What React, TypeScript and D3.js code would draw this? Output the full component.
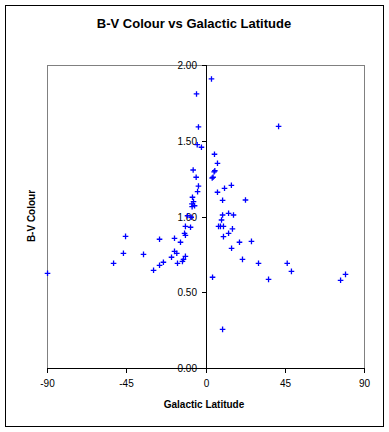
import React from "react";
import * as d3 from "d3";

// galactic latitude (deg) and B-V colour
const latitudes = [
  -89.7, -52.2, -46.6, -45.4, -35.2, -29.5, -26.1, -26.1, -23.9, -19.3,
  -17.6, -17.6, -16.3, -15.9, -14.2, -13.1, -12.5, -11.4, -11.9, -11.4,
  -11.4, -8.5, -10.2, -8.1, -7.6, -6.2, -7.7, -6.8, -7.4, -4.5,
  -4.0, -5.3, -7.0, -2.3, -4.7, -4.0, -5.1,
  3.4, 41.5, 5.1, 6.8, 5.3, 4.9, 4.3, 3.8, 14.7, 10.8,
  6.8, 9.7, 22.7, 9.7, 13.1, 15.9, 9.1, 7.4, 8.5, 10.2,
  15.3, 13.1, 10.2, 19.3, 26.1, 14.8, 21.0, 30.1, 46.4, 48.8,
  35.8, 4.0, 76.7, 79.5, 9.7,
];
const bvColours = [
  0.625, 0.691, 0.757, 0.869, 0.75, 0.645, 0.85, 0.678, 0.698, 0.731,
  0.77, 0.856, 0.757, 0.691, 0.83, 0.704, 0.717, 0.737, 0.889, 0.876,
  0.935, 0.929, 1.005, 0.995, 1.065, 1.071, 1.083, 1.098, 1.127, 1.164,
  1.201, 1.259, 1.307, 1.457, 1.474, 1.591, 1.809,
  1.908, 1.595, 1.411, 1.351, 1.302, 1.295, 1.259, 1.254, 1.206, 1.186,
  1.16, 1.107, 1.109, 1.01, 1.021, 1.01, 0.977, 0.935, 0.935, 0.935,
  0.918, 0.889, 0.867, 0.83, 0.836, 0.79, 0.717, 0.691, 0.691, 0.638,
  0.585, 0.599, 0.579, 0.618, 0.255,
];
const xTickValues = [-90, -45, 0, 45, 90];
const yTickValues = [0, 0.5, 1, 1.5, 2];

const font = "'Liberation Sans', Arial, sans-serif";

export default function App() {
  const width = 389;
  const height = 432;
  const plot = { left: 47, right: 364, top: 65, bottom: 368 };

  const x = d3.scaleLinear().domain([-90, 90]).range([plot.left, plot.right]);
  const y = d3.scaleLinear().domain([0, 2]).range([plot.bottom, plot.top]);
  const fmt = d3.format(".2f");
  const arm = 2.8;

  return (
    <svg
      width={width}
      height={height}
      style={{ position: "absolute", left: 0, top: 0, background: "#fff" }}
      fontFamily={font}
    >
      {/* outer frame */}
      <rect x={5.5} y={5.5} width={378} height={421} fill="#fff" stroke="#000" />

      {/* title */}
      <text x={194} y={28} textAnchor="middle" fontSize={13} fontWeight="bold">
        B-V Colour vs Galactic Latitude
      </text>

      {/* plot area */}
      <rect
        x={plot.left + 0.5}
        y={plot.top + 0.5}
        width={plot.right - plot.left}
        height={plot.bottom - plot.top}
        fill="#fff"
        stroke="#808080"
      />

      {/* x axis */}
      <line x1={plot.left} x2={plot.right} y1={y(0) + 0.5} y2={y(0) + 0.5} stroke="#000" />
      {xTickValues.map((t) => (
        <g key={t} transform={`translate(${Math.round(x(t)) + 0.5},${y(0)})`}>
          <line y1={0} y2={5} stroke="#000" />
          <text y={19} textAnchor="middle" fontSize={10}>
            {t}
          </text>
        </g>
      ))}

      {/* y axis */}
      <line x1={Math.round(x(0)) + 0.5} x2={Math.round(x(0)) + 0.5} y1={plot.top} y2={plot.bottom} stroke="#000" />
      {yTickValues.map((t) => (
        <g key={t} transform={`translate(${Math.round(x(0))},${Math.round(y(t)) + 0.5})`}>
          <line x1={-4} x2={0} stroke="#000" />
          <text x={-9} y={3.5} textAnchor="end" fontSize={10}>
            {fmt(t)}
          </text>
        </g>
      ))}

      {/* axis titles */}
      <text x={204} y={408} textAnchor="middle" fontSize={10} fontWeight="bold">
        Galactic Latitude
      </text>
      <text
        transform="translate(35,216) rotate(-90)"
        textAnchor="middle"
        fontSize={10}
        fontWeight="bold"
      >
        B-V Colour
      </text>

      {/* markers */}
      {latitudes.map((lat, i) => {
        const cx = x(lat);
        const cy = y(bvColours[i]);
        return (
          <path
            key={i}
            d={`M${cx - arm},${cy}H${cx + arm}M${cx},${cy - arm}V${cy + arm}`}
            stroke="#0000ff"
            strokeWidth={1.3}
            fill="none"
          />
        );
      })}
    </svg>
  );
}
